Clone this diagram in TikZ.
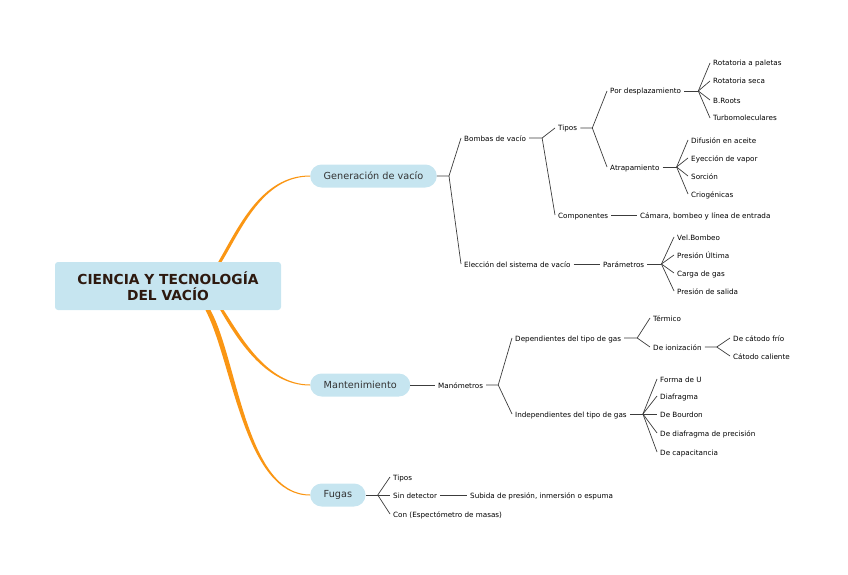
\documentclass[tikz,border=0pt]{standalone}
\usepackage{fontspec}
\setmainfont{DejaVu Sans}
\usetikzlibrary{calc}
\definecolor{topicblue}{RGB}{198,229,240}
\definecolor{branchorange}{RGB}{250,150,20}
\definecolor{linegray}{RGB}{60,60,60}
\definecolor{roottext}{RGB}{45,25,15}

\begin{document}
\begin{tikzpicture}[x=1pt, y=-1pt,
    root/.style={fill=topicblue, rounded corners=3pt, minimum width=226pt, minimum height=48pt,
      align=center, text=roottext, font=\fontsize{13.8}{16.5}\selectfont\bfseries},
    topic/.style={anchor=west, fill=topicblue, rounded corners=11.5pt, minimum height=23pt,
      inner xsep=13.5pt, text=black!80, font=\fontsize{9.7}{11}\selectfont},
    leaf/.style={anchor=west, inner xsep=3pt, inner ysep=1pt, text height=6.5pt, text depth=0.5pt,
      font=\fontsize{7.2}{8.5}\selectfont},
    link/.style={draw=linegray, line width=0.7pt},
    branch/.style={fill=branchorange}]
  \useasboundingbox (0,0) rectangle (848,575);

  % centre and main topics
  \node[root] (root) at (168,286) {CIENCIA Y TECNOLOGÍA\\DEL VACÍO};
  \node[topic] (gen) at (310,176) {Generación de vacío};
  \node[topic] (mant) at (310,385) {Mantenimiento};
  \node[topic] (fug) at (310,495) {Fugas};

  \coordinate (r1) at ($(root.north)+(52,0)$);
  \coordinate (r2) at ($(root.south)+(54,0)$);
  \coordinate (r3) at ($(root.south)+(40,0)$);

  \fill[branch] ($(r1)+(-1.7,0)$) .. controls (238,228) and (261,175.5) .. ($(gen.west)+(0,-0.5)$)
    -- ($(gen.west)+(0,0.5)$) .. controls (263,176.5) and (241.5,229) .. ($(r1)+(1.7,0)$) -- cycle;
  \fill[branch] ($(r2)+(-1.7,0)$) .. controls (236,337) and (265,385.5) .. ($(mant.west)+(0,0.5)$)
    -- ($(mant.west)+(0,-0.5)$) .. controls (266,384.5) and (239.5,334) .. ($(r2)+(1.7,0)$) -- cycle;
  \fill[branch] ($(r3)+(-2.5,0)$) .. controls (232.5,361) and (244,495.5) .. ($(fug.west)+(0,0.5)$)
    -- ($(fug.west)+(0,-0.5)$) .. controls (246,494.5) and (237.5,359) .. ($(r3)+(2.5,0)$) -- cycle;

  % Generacion de vacio
  \node[leaf] (bombas) at (461,138) {Bombas de vacío};
  \node[leaf] (eleccion) at (461,264) {Elección del sistema de vacío};
  \node[leaf] (tipos) at (555,128) {Tipos};
  \node[leaf] (comp) at (555,215) {Componentes};
  \node[leaf] (desp) at (607,91) {Por desplazamiento};
  \node[leaf] (atrap) at (607,167) {Atrapamiento};
  \node[leaf] (rp) at (710,63) {Rotatoria a paletas};
  \node[leaf] (rs) at (710,81) {Rotatoria seca};
  \node[leaf] (br) at (710,100) {B.Roots};
  \node[leaf] (tm) at (710,118) {Turbomoleculares};
  \node[leaf] (da) at (688,140) {Difusión en aceite};
  \node[leaf] (ev) at (688,158) {Eyección de vapor};
  \node[leaf] (so) at (688,176) {Sorción};
  \node[leaf] (cr) at (688,194) {Criogénicas};
  \node[leaf] (camara) at (637,215) {Cámara, bombeo y línea de entrada};
  \node[leaf] (param) at (600,264) {Parámetros};
  \node[leaf] (vb) at (674,237) {Vel.Bombeo};
  \node[leaf] (pu) at (674,255) {Presión Última};
  \node[leaf] (cg) at (674,273) {Carga de gas};
  \node[leaf] (ps) at (674,291) {Presión de salida};

  \coordinate (jgen) at ($(gen.east)+(12,0)$);
  \coordinate (jbombas) at ($(bombas.east)+(13,0)$);
  \coordinate (jtipos) at ($(tipos.east)+(12,0)$);
  \coordinate (jdesp) at ($(desp.east)+(14,0)$);
  \coordinate (jatrap) at ($(atrap.east)+(14,0)$);
  \coordinate (jparam) at ($(param.east)+(14,0)$);

  \draw[link] (gen.east) -- (jgen) -- (bombas.west);
  \draw[link] (jgen) -- (eleccion.west);
  \draw[link] (bombas.east) -- (jbombas) -- (tipos.west);
  \draw[link] (jbombas) -- (comp.west);
  \draw[link] (tipos.east) -- (jtipos) -- (desp.west);
  \draw[link] (jtipos) -- (atrap.west);
  \draw[link] (desp.east) -- (jdesp);
  \draw[link] (jdesp) -- (rp.west);
  \draw[link] (jdesp) -- (rs.west);
  \draw[link] (jdesp) -- (br.west);
  \draw[link] (jdesp) -- (tm.west);
  \draw[link] (atrap.east) -- (jatrap);
  \draw[link] (jatrap) -- (da.west);
  \draw[link] (jatrap) -- (ev.west);
  \draw[link] (jatrap) -- (so.west);
  \draw[link] (jatrap) -- (cr.west);
  \draw[link] (comp.east) -- (camara.west);
  \draw[link] (eleccion.east) -- (param.west);
  \draw[link] (param.east) -- (jparam);
  \draw[link] (jparam) -- (vb.west);
  \draw[link] (jparam) -- (pu.west);
  \draw[link] (jparam) -- (cg.west);
  \draw[link] (jparam) -- (ps.west);

  % Mantenimiento
  \node[leaf] (manom) at (435,385) {Manómetros};
  \node[leaf] (dep) at (512,338) {Dependientes del tipo de gas};
  \node[leaf] (indep) at (512,414) {Independientes del tipo de gas};
  \node[leaf] (term) at (650,318) {Térmico};
  \node[leaf] (ioniz) at (650,347) {De ionización};
  \node[leaf] (cf) at (730,338) {De cátodo frío};
  \node[leaf] (cc) at (730,356) {Cátodo caliente};
  \node[leaf] (fu) at (657,379) {Forma de U};
  \node[leaf] (dia) at (657,396) {Diafragma};
  \node[leaf] (bou) at (657,414) {De Bourdon};
  \node[leaf] (dp) at (657,433) {De diafragma de precisión};
  \node[leaf] (cap) at (657,452) {De capacitancia};

  \coordinate (jmanom) at ($(manom.east)+(12,0)$);
  \coordinate (jdep) at ($(dep.east)+(13,0)$);
  \coordinate (jioniz) at ($(ioniz.east)+(12,0)$);
  \coordinate (jindep) at ($(indep.east)+(13,0)$);

  \draw[link] (mant.east) -- (manom.west);
  \draw[link] (manom.east) -- (jmanom) -- (dep.west);
  \draw[link] (jmanom) -- (indep.west);
  \draw[link] (dep.east) -- (jdep) -- (term.west);
  \draw[link] (jdep) -- (ioniz.west);
  \draw[link] (ioniz.east) -- (jioniz) -- (cf.west);
  \draw[link] (jioniz) -- (cc.west);
  \draw[link] (indep.east) -- (jindep);
  \draw[link] (jindep) -- (fu.west);
  \draw[link] (jindep) -- (dia.west);
  \draw[link] (jindep) -- (bou.west);
  \draw[link] (jindep) -- (dp.west);
  \draw[link] (jindep) -- (cap.west);

  % Fugas
  \node[leaf] (ftipos) at (390,477) {Tipos};
  \node[leaf] (sind) at (390,495) {Sin detector};
  \node[leaf] (con) at (390,514) {Con (Espectómetro de masas)};
  \node[leaf] (subida) at (467,495) {Subida de presión, inmersión o espuma};

  \coordinate (jfug) at ($(fug.east)+(12,0)$);

  \draw[link] (fug.east) -- (jfug);
  \draw[link] (jfug) -- (ftipos.west);
  \draw[link] (jfug) -- (sind.west);
  \draw[link] (jfug) -- (con.west);
  \draw[link] (sind.east) -- (subida.west);
\end{tikzpicture}
\end{document}
